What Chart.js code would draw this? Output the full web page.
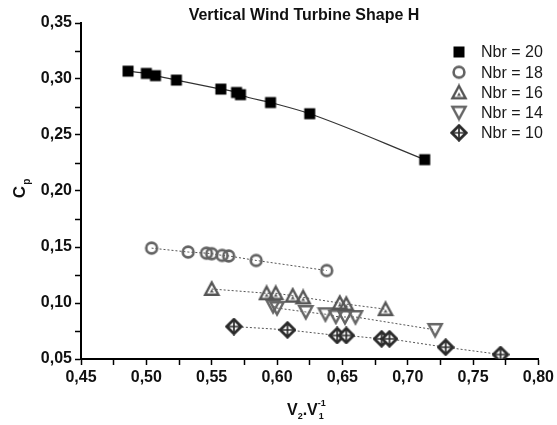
<!DOCTYPE html>
<html>
<head>
<meta charset="utf-8">
<script src="https://cdn.jsdelivr.net/npm/chart.js@4"></script>
<style>
  html, body { margin: 0; padding: 0; background: #fff; }
  canvas { display: block; }
</style>
</head>
<body>
<canvas id="cp-chart" width="557" height="425"></canvas>
<script>
"use strict";

// values (x = V2/V1, y = Cp)
var seriesLabels = ["Nbr = 20", "Nbr = 18", "Nbr = 16", "Nbr = 14", "Nbr = 10"];

var nbr20X = [0.486, 0.500, 0.507, 0.523, 0.557, 0.569, 0.572, 0.595, 0.625, 0.713];
var nbr20Y = [0.307, 0.305, 0.303, 0.299, 0.291, 0.288, 0.286, 0.279, 0.269, 0.228];

var nbr18X = [0.504, 0.532, 0.546, 0.550, 0.558, 0.563, 0.584, 0.638];
var nbr18Y = [0.149, 0.1455, 0.1445, 0.144, 0.1425, 0.142, 0.138, 0.129];

var nbr16X = [0.550, 0.592, 0.599, 0.612, 0.620, 0.648, 0.653, 0.683];
var nbr16Y = [0.1125, 0.1087, 0.1087, 0.1065, 0.105, 0.100, 0.099, 0.0945];

var nbr14X = [0.597, 0.600, 0.622, 0.637, 0.645, 0.652, 0.660, 0.721];
var nbr14Y = [0.0973, 0.0955, 0.092, 0.090, 0.088, 0.0875, 0.0875, 0.076];

var nbr10X = [0.567, 0.608, 0.646, 0.653, 0.680, 0.686, 0.729, 0.771];
var nbr10Y = [0.079, 0.076, 0.071, 0.071, 0.068, 0.068, 0.0605, 0.054];

var xTicksMin = 0.45, xTicksMax = 0.80;
var yTicksMin = 0.05, yTicksMax = 0.35;

var FONT = "'Liberation Sans', Arial, sans-serif";


// build {x,y} pairs from two arrays
function toPoints(xs, ys) {
	var pts = [];
	for (var i = 0; i < xs.length; i++) {
		pts.push({ x: xs[i], y: ys[i] });
	}
	return pts;
}

// small canvases used as point styles (and again in the legend)
function makeMarker(kind) {
	var c = document.createElement("canvas");
	c.width = 18;
	c.height = 18;
	var g = c.getContext("2d");
	g.lineJoin = "miter";
	if (kind === "square") {
		g.fillStyle = "#000";
		g.fillRect(3.5, 3.5, 11, 11);
	} else if (kind === "circle") {
		g.strokeStyle = "#636363";
		g.lineWidth = 2.6;
		g.beginPath();
		g.arc(9, 9, 5.4, 0, Math.PI * 2);
		g.stroke();
	} else if (kind === "triUp") {
		g.strokeStyle = "#555";
		g.lineWidth = 2.4;
		g.beginPath();
		g.moveTo(9, 2.5);
		g.lineTo(15.6, 14.8);
		g.lineTo(2.4, 14.8);
		g.closePath();
		g.stroke();
		g.fillStyle = "#555";
		g.beginPath();
		g.moveTo(9, 9);
		g.lineTo(11, 12.4);
		g.lineTo(7, 12.4);
		g.closePath();
		g.fill();
	} else if (kind === "triDown") {
		g.strokeStyle = "#666";
		g.lineWidth = 2.4;
		g.beginPath();
		g.moveTo(2.4, 3.2);
		g.lineTo(15.6, 3.2);
		g.lineTo(9, 15.4);
		g.closePath();
		g.stroke();
	} else if (kind === "diamond") {
		g.fillStyle = "#fff";
		g.strokeStyle = "#2b2b2b";
		g.lineWidth = 2.8;
		g.beginPath();
		g.moveTo(9, 1.8);
		g.lineTo(16.2, 9);
		g.lineTo(9, 16.2);
		g.lineTo(1.8, 9);
		g.closePath();
		g.fill();
		g.stroke();
		g.lineWidth = 1.7;
		g.beginPath();
		g.moveTo(9, 3.5);
		g.lineTo(9, 14.5);
		g.moveTo(3.5, 9);
		g.lineTo(14.5, 9);
		g.stroke();
	}
	return c;
}

var markers = [
	makeMarker("square"),
	makeMarker("circle"),
	makeMarker("triUp"),
	makeMarker("triDown"),
	makeMarker("diamond")
];

function fmt(v) {
	return v.toFixed(2).replace(".", ",");
}

// only label every 0.05 step, the 0.025 steps are the minor ticks
function majorLabel(value) {
	var m = Math.round(value * 1000);
	if (m % 50 === 0) {
		return fmt(value);
	}
	return "";
}


// draw the title, axis titles (with sub/superscripts) and the legend
var decorPlugin = {
	id: "decor",
	afterDraw: function(chart) {
		var ctx = chart.ctx;
		ctx.save();
		ctx.fillStyle = "#111";

		// title
		ctx.font = "bold 16px " + FONT;
		ctx.textAlign = "center";
		ctx.textBaseline = "middle";
		ctx.fillText("Vertical Wind Turbine Shape H", 304, 16);

		// y axis title : C with subscript p
		ctx.save();
		ctx.translate(19, 190);
		ctx.rotate(-Math.PI / 2);
		ctx.textAlign = "left";
		ctx.textBaseline = "alphabetic";
		ctx.font = "bold 17px " + FONT;
		var cw = ctx.measureText("C").width;
		ctx.fillText("C", -cw / 2 - 2, 6);
		ctx.font = "bold 10px " + FONT;
		ctx.fillText("p", cw / 2 - 1, 11);
		ctx.restore();

		// x axis title : V2.V1^-1
		ctx.textAlign = "left";
		ctx.textBaseline = "alphabetic";
		var x = 287, base = 415;
		ctx.font = "bold 16px " + FONT;
		ctx.fillText("V", x, base);
		x += ctx.measureText("V").width;
		ctx.font = "bold 9px " + FONT;
		ctx.fillText("2", x, base + 4);
		x += ctx.measureText("2").width;
		ctx.font = "bold 16px " + FONT;
		ctx.fillText(".", x, base);
		x += ctx.measureText(".").width;
		ctx.fillText("V", x, base);
		x += ctx.measureText("V").width;
		ctx.font = "bold 9px " + FONT;
		ctx.fillText("-1", x, base - 9);
		ctx.fillText("1", x + 1, base + 4);

		// legend
		ctx.font = "16px " + FONT;
		ctx.textBaseline = "middle";
		ctx.fillStyle = "#1a1a1a";
		var rowY = 52;
		chart.data.datasets.forEach(function(ds, i) {
			var m = markers[i];
			ctx.drawImage(m, 459 - m.width / 2, rowY - m.height / 2);
			ctx.fillText(ds.label, 481, rowY + 1);
			rowY += 20.2;
		});

		ctx.restore();
	}
};


function makeDataset(i, xs, ys, lineStyle) {
	var ds = {
		label: seriesLabels[i],
		data: toPoints(xs, ys),
		showLine: true,
		pointStyle: markers[i],
		pointRadius: 6,
		pointHoverRadius: 6,
		borderColor: "#4a4a4a",
		borderWidth: 1,
		backgroundColor: "transparent",
		fill: false
	};
	if (lineStyle === "solid") {
		ds.borderColor = "#333";
		ds.borderWidth = 1.2;
		ds.cubicInterpolationMode = "monotone";
	} else {
		ds.borderDash = [2, 2];
		ds.borderColor = "#555";
		ds.tension = 0;
	}
	return ds;
}

var ctx = document.getElementById("cp-chart").getContext("2d");
var cpChart = new Chart(ctx, {
	type: "scatter",
	data: {
		datasets: [
			makeDataset(0, nbr20X, nbr20Y, "solid"),
			makeDataset(1, nbr18X, nbr18Y, "dotted"),
			makeDataset(2, nbr16X, nbr16Y, "dotted"),
			makeDataset(3, nbr14X, nbr14Y, "dotted"),
			makeDataset(4, nbr10X, nbr10Y, "dotted")
		]
	},
	options: {
		responsive: false,
		animation: false,
		layout: {
			padding: { top: 23, right: 18, left: 0, bottom: 0 }
		},
		plugins: {
			legend: { display: false },
			title: { display: false },
			tooltip: { enabled: false }
		},
		scales: {
			x: {
				type: "linear",
				min: xTicksMin,
				max: xTicksMax,
				afterFit: function(scale) { scale.height = 66; },
				border: { display: true, color: "#000", width: 2 },
				grid: {
					drawOnChartArea: false,
					drawTicks: true,
					tickLength: 6,
					tickColor: "#000",
					tickWidth: 1.5
				},
				ticks: {
					stepSize: 0.025,
					autoSkip: false,
					maxRotation: 0,
					padding: 3,
					color: "#111",
					font: { family: FONT, size: 16, weight: "bold" },
					callback: majorLabel
				}
			},
			y: {
				type: "linear",
				min: yTicksMin,
				max: yTicksMax,
				afterFit: function(scale) { scale.width = 81; },
				border: { display: true, color: "#000", width: 2 },
				grid: {
					drawOnChartArea: false,
					drawTicks: true,
					tickLength: 6,
					tickColor: "#000",
					tickWidth: 1.5
				},
				ticks: {
					stepSize: 0.025,
					autoSkip: false,
					padding: 3,
					color: "#111",
					font: { family: FONT, size: 16, weight: "bold" },
					callback: majorLabel
				}
			}
		}
	},
	plugins: [decorPlugin]
});
</script>
</body>
</html>
